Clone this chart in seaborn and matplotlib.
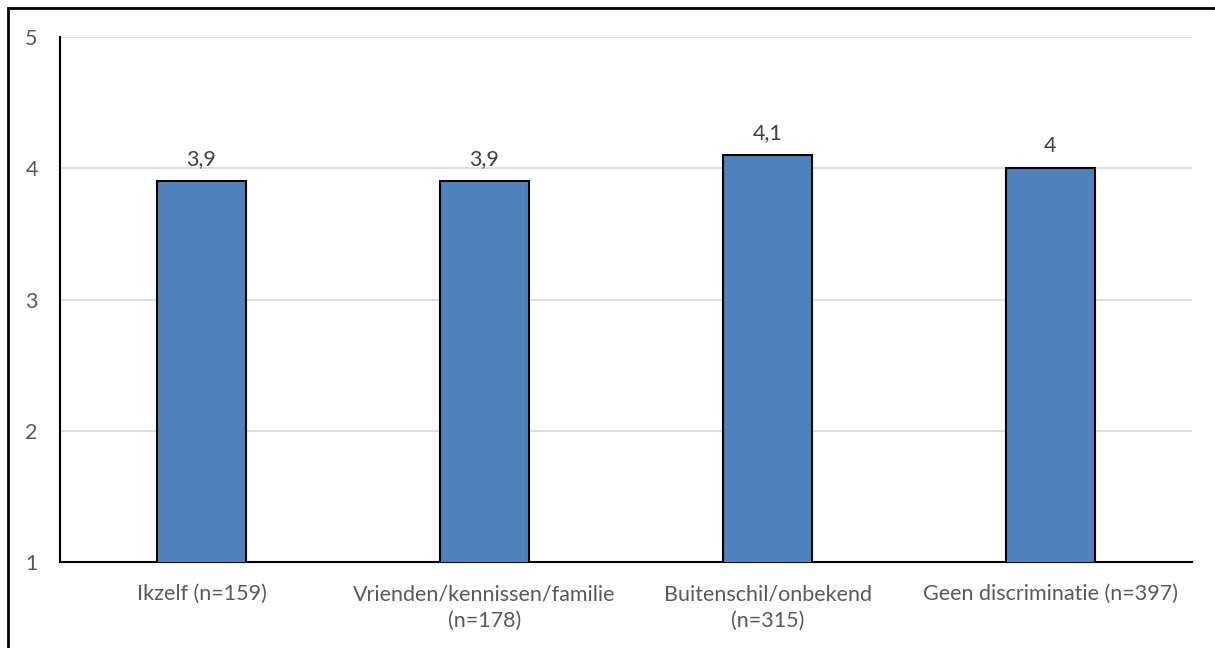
import matplotlib
matplotlib.use("Agg")
import matplotlib.pyplot as plt
import seaborn as sns
import pandas as pd
from matplotlib.patches import Rectangle

categories = ["Ikzelf (n=159)", "Vrienden/kennissen/familie\n(n=178)",
              "Buitenschil/onbekend\n(n=315)", "Geen discriminatie (n=397)"]
values = [3.9, 3.9, 4.1, 4.0]
value_labels = ["3,9", "3,9", "4,1", "4"]
yticks = [1, 2, 3, 4, 5]

sns.set_theme(style="white")
plt.rcParams['font.family'] = ['Lato', 'DejaVu Sans']

df = pd.DataFrame({"cat": categories, "val": values})

fig = plt.figure(figsize=(12.15, 6.48), dpi=100)
ax = fig.add_axes([60/1215, 1-562/648, (1192-60)/1215, (562-37)/648])

sns.barplot(data=df, x="cat", y="val", color="#4f81bd", edgecolor="black",
            linewidth=1.5, width=0.315, ax=ax, saturation=1, zorder=3)

ax.set_ylim(1, 5)
ax.set_xlim(-0.5, len(categories) - 0.5)
ax.set_yticks(yticks)
ax.set_yticklabels([str(t) for t in yticks])
ax.yaxis.grid(True, color="#d9d9d9", linewidth=1.2, zorder=0)
ax.set_axisbelow(True)
ax.set_xlabel("")
ax.set_ylabel("")
for s in ["top", "right"]:
    ax.spines[s].set_visible(False)
for s in ["left", "bottom"]:
    ax.spines[s].set_color("black")
    ax.spines[s].set_linewidth(1.5)
ax.tick_params(axis="both", length=0, labelsize=15.5, labelcolor="#595959")
ax.tick_params(axis="y", pad=16)
ax.tick_params(axis="x", pad=16)
for t in ax.get_xticklabels():
    t.set_linespacing(1.4)

for i, (v, lab) in enumerate(zip(values, value_labels)):
    ax.annotate(lab, (i, v), xytext=(0, 9), textcoords="offset points",
                ha="center", va="bottom", fontsize=15.5, color="#404040")

fig.patches.append(Rectangle((8/1215, -0.1), 1.2, 1 - 8/648 + 0.1,
                             transform=fig.transFigure, fill=False,
                             edgecolor="black", linewidth=2, figure=fig))

fig.savefig("out.png", dpi=100)
